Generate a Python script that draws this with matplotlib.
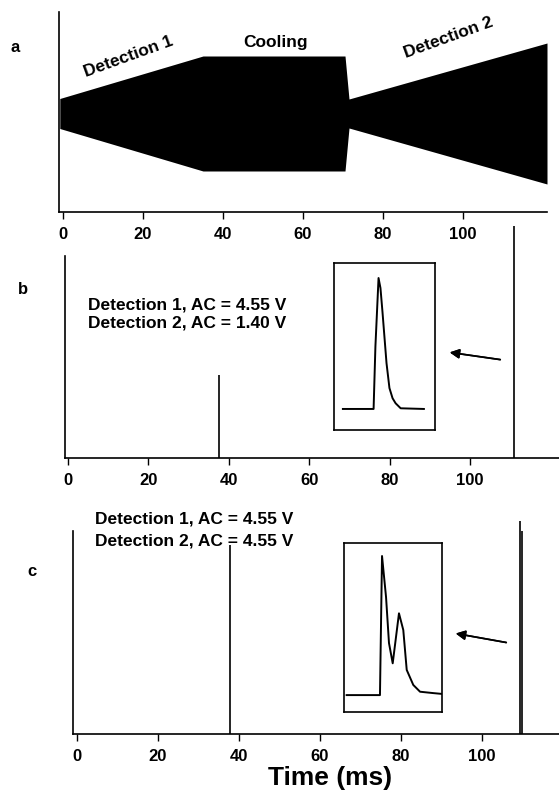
import numpy as np
import matplotlib
matplotlib.use("Agg")
import matplotlib.pyplot as plt

plt.rcParams["font.family"] = ["Liberation Sans", "DejaVu Sans"]
plt.rcParams["font.weight"] = "bold"

W, H = 559, 790

# panel a: rf amplitude envelope (half amplitude, arb. units)
env_t = [-0.8, 35, 70.5, 71.5, 121]
env_amp = [0.15, 0.575, 0.575, 0.145, 0.705]

# panel b / c: detected ion signal, spike times (ms) and heights
spk_b_t = [37.6, 111.0]
spk_b_h = [0.41, 1.15]
spk_c_t = [37.7, 109.3, 109.9]
spk_c_h = [0.93, 1.05, 1.0]

# insets: zoomed peak shapes (normalised)
ins_b_x = [0.088, 0.392, 0.41, 0.441, 0.46, 0.48, 0.52, 0.549, 0.58, 0.61, 0.66, 0.89]
ins_b_y = [0.126, 0.126, 0.50, 0.91, 0.85, 0.707, 0.40, 0.251, 0.19, 0.16, 0.13, 0.126]
ins_c_x = [0.027, 0.367, 0.388, 0.429, 0.459, 0.497, 0.561, 0.605, 0.64, 0.707, 0.776, 0.908, 1.0]
ins_c_y = [0.10, 0.10, 0.923, 0.68, 0.408, 0.288, 0.584, 0.485, 0.249, 0.16, 0.12, 0.112, 0.107]

xticks = [0, 20, 40, 60, 80, 100]
texts_b = ["Detection 1, AC = 4.55 V", "Detection 2, AC = 1.40 V"]
texts_c = ["Detection 1, AC = 4.55 V", "Detection 2, AC = 4.55 V"]


def box(x0, y0, x1, y1):
    # pixel box (top-left origin) -> figure fraction rect
    return [x0 / W, 1 - y1 / H, (x1 - x0) / W, (y1 - y0) / H]


def ftext(x, y, s, **kw):
    fig.text(x / W, 1 - y / H, s, **kw)


def style(ax, xlim, ylim):
    ax.set_xlim(*xlim)
    ax.set_ylim(*ylim)
    for s in ["top", "right"]:
        ax.spines[s].set_visible(False)
    for s in ["left", "bottom"]:
        ax.spines[s].set_linewidth(1.2)
    ax.set_yticks([])
    ax.set_xticks(xticks)
    ax.tick_params(axis="x", direction="out", length=5, width=1, pad=6, labelsize=12)
    ax.patch.set_alpha(0)


def arrow(tail, head):
    fig.add_artist(plt.annotate("", xy=(head[0] / W, 1 - head[1] / H),
                                xytext=(tail[0] / W, 1 - tail[1] / H),
                                xycoords="figure fraction", textcoords="figure fraction",
                                arrowprops=dict(arrowstyle="-|>", color="k", lw=1.2,
                                                mutation_scale=14)))


fig = plt.figure(figsize=(W / 100, H / 100), dpi=100)

# ---- a
ax_a = fig.add_axes(box(59, 12, 547, 212))
style(ax_a, (-1, 121), (-0.985, 1.015))
amp = np.array(env_amp)
ax_a.fill_between(env_t, -amp, amp, color="k", lw=0)
ftext(129, 57, "Detection 1", fontsize=12.5, rotation=20, ha="center", va="center",
      rotation_mode="anchor")
ftext(276, 47, "Cooling", fontsize=12.5, ha="center", va="baseline")
ftext(449, 38, "Detection 2", fontsize=12.5, rotation=20, ha="center", va="center",
      rotation_mode="anchor")
ftext(15, 47, "a", fontsize=12, ha="center", va="center")

# ---- b
ax_b = fig.add_axes(box(65, 256, 559, 458))
style(ax_b, (-0.75, 122.1), (0, 1))
ax_b.vlines(spk_b_t, 0, spk_b_h, color="k", lw=1.2, clip_on=False)
ftext(23, 290, "b", fontsize=12, ha="center", va="center")
ftext(88, 309, texts_b[0], fontsize=12.5, ha="left", va="baseline")
ftext(88, 327, texts_b[1], fontsize=12.5, ha="left", va="baseline")

ins_b = fig.add_axes(box(334, 263, 435, 430))
ins_b.plot(ins_b_x, ins_b_y, color="k", lw=1.4)
ins_b.set_xlim(0, 1)
ins_b.set_ylim(0, 1)
ins_b.set_xticks([])
ins_b.set_yticks([])
for s in ins_b.spines.values():
    s.set_linewidth(1.2)
arrow((503, 360), (447, 352))

# ---- c
ax_c = fig.add_axes(box(73, 531, 559, 734))
style(ax_c, (-1, 119), (0, 1))
ax_c.vlines(spk_c_t, 0, spk_c_h, color="k", lw=1.2, clip_on=False)
ftext(32, 572, "c", fontsize=12, ha="center", va="center")
ftext(95, 523, texts_c[0], fontsize=12.5, ha="left", va="baseline")
ftext(95, 545, texts_c[1], fontsize=12.5, ha="left", va="baseline")

ins_c = fig.add_axes(box(344, 543, 442, 712))
ins_c.plot(ins_c_x, ins_c_y, color="k", lw=1.4)
ins_c.set_xlim(0, 1)
ins_c.set_ylim(0, 1)
ins_c.set_xticks([])
ins_c.set_yticks([])
for s in ins_c.spines.values():
    s.set_linewidth(1.2)
arrow((509, 643), (453, 633))

ftext(330, 778, "Time (ms)", fontsize=19, ha="center", va="center")

fig.savefig("out.png", dpi=100)
